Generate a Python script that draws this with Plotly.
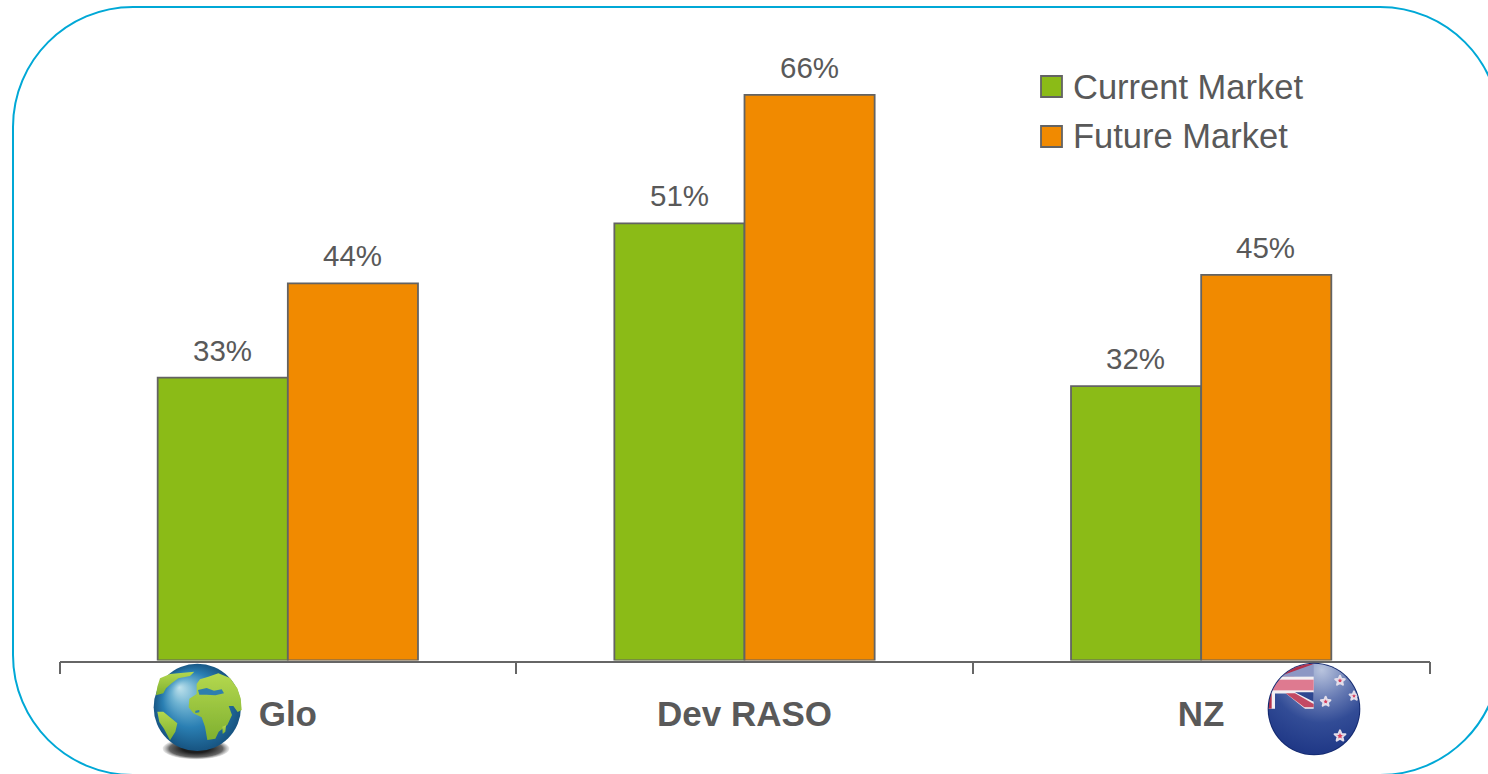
import base64
import math

import plotly.graph_objects as go

WIDTH, HEIGHT = 1488, 774

categories = ["Glo", "Dev RASO", "NZ"]
current_market = [33, 51, 32]
future_market = [44, 66, 45]
series_names = ["Current Market", "Future Market"]

GREEN = "#8BBB17"
ORANGE = "#F18A00"
EDGE = "#636363"
TEXT = "#595959"
FRAME = "#00A8D6"
FONT = "Liberation Sans, Arial, sans-serif"


def fx(px):
    return px / WIDTH


def fy(py):
    return 1 - py / HEIGHT


def svg_uri(body, view):
    svg = (
        f'<svg xmlns="http://www.w3.org/2000/svg" width="{view[2]}" height="{view[3]}" '
        f'viewBox="{view[0]} {view[1]} {view[2]} {view[3]}">{body}</svg>'
    )
    return "data:image/svg+xml;base64," + base64.b64encode(svg.encode()).decode()


def star(cx, cy, r, fill, stroke=None, sw=0):
    pts = []
    for i in range(10):
        rad = r if i % 2 == 0 else r * 0.45
        a = -math.pi / 2 + i * math.pi / 5
        pts.append(f"{cx + rad * math.cos(a):.1f},{cy + rad * math.sin(a):.1f}")
    extra = f' stroke="{stroke}" stroke-width="{sw}" stroke-linejoin="round"' if stroke else ""
    return f'<polygon points="{" ".join(pts)}" fill="{fill}"{extra}/>'


# Globe icon beside the first category, drawn on a 3x grid
globe_body = """
<defs>
<radialGradient id="sea" gradientUnits="userSpaceOnUse" cx="142" cy="142" r="134" fx="88" fy="82">
<stop offset="0" stop-color="#BFE2EC"/><stop offset="0.28" stop-color="#6FB3D2"/>
<stop offset="0.62" stop-color="#2A7FB3"/><stop offset="1" stop-color="#16527F"/>
</radialGradient>
<linearGradient id="land" x1="0" y1="0" x2="0" y2="1">
<stop offset="0" stop-color="#B4D84E"/><stop offset="1" stop-color="#7FB030"/>
</linearGradient>
<radialGradient id="shade"><stop offset="0.4" stop-color="#1E1E1E"/>
<stop offset="0.8" stop-color="#666"/><stop offset="1" stop-color="#999" stop-opacity="0.2"/></radialGradient>
<filter id="soft"><feGaussianBlur stdDeviation="1.6"/></filter>
</defs>
<ellipse cx="138" cy="266" rx="100" ry="32" fill="url(#shade)"/>
<circle cx="142" cy="142" r="131" fill="url(#sea)"/>
<g filter="url(#soft)">
<path fill="url(#land)" d="M140,72 L150,58 L175,50 L205,40 L240,54 L262,85 L272,115 L275,150 L263,156
 L250,138 L236,138 L246,165 L232,195 L206,215 L196,236 L172,240 L165,200 L155,172 L130,160 L116,142
 L118,116 L140,102 Z"/>
<path fill="url(#land)" d="M30,55 L60,42 L133,35 L120,48 L85,55 L65,70 L48,85 L40,100 L18,106 L22,80 Z"/>
<path fill="url(#land)" d="M22,155 L40,155 L60,172 L82,190 L76,215 L60,241 L42,206 L28,186 Z"/>
<path fill="url(#land)" d="M217,200 L228,196 L226,215 L218,222 Z"/>
<path fill="#2F7FAE" d="M144,90 L170,84 L192,92 L215,88 L222,100 L196,106 L170,104 L148,104 Z"/>
<path fill="#2F7FAE" d="M136,152 L148,150 L148,157 L136,159 Z"/>
</g>
"""

# New Zealand flag badge beside the last category
flag_stars = "".join(
    star(x, y, r, "#D9405E", "#E3DEEA", 6)
    for x, y, r in [(225, 62, 15), (182, 125, 15), (267, 108, 14), (225, 228, 17)]
)
flag_body = f"""
<defs>
<radialGradient id="navy" gradientUnits="userSpaceOnUse" cx="170" cy="30" r="265">
<stop offset="0" stop-color="#B9C4DE"/><stop offset="0.35" stop-color="#6478B2"/>
<stop offset="0.6" stop-color="#324C96"/><stop offset="1" stop-color="#1D3584"/>
</radialGradient>
<clipPath id="disc"><circle cx="147" cy="147" r="136"/></clipPath>
<filter id="soft"><feGaussianBlur stdDeviation="1.4"/></filter>
</defs>
<circle cx="147" cy="147" r="139" fill="#13296F"/>
<g clip-path="url(#disc)">
<rect width="295" height="295" fill="url(#navy)"/>
<g filter="url(#soft)">
<polygon points="5,50 5,5 122,5 146,5 146,12 85,50" fill="#B3304B"/>
<polygon points="40,50 146,12 146,50" fill="#8C97C4"/>
<rect x="5" y="50" width="141" height="50" fill="#F3EFF2"/>
<rect x="5" y="59" width="141" height="32" fill="#DE7A90"/>
<polygon points="5,97 146,97 146,146 120,146 62,100 30,100 30,146 5,146" fill="#F2F0F3"/>
<polygon points="30,97 146,97 146,125 90,97" fill="#2D4690"/>
<polygon points="62,100 90,100 146,132 146,142 118,142" fill="#C34A63"/>
<polygon points="5,100 20,100 20,146 5,146" fill="#B3304B"/>
{flag_stars}
</g>
</g>
"""

images = [
    dict(source=svg_uri(globe_body, (0, 0, 288, 310)), x0=150, y0=660, w=288 / 3, h=310 / 3),
    dict(source=svg_uri(flag_body, (0, 0, 295, 295)), x0=1265, y0=660, w=295 / 3, h=295 / 3),
]

fig = go.Figure()
for name, values, color in zip(series_names, [current_market, future_market], [GREEN, ORANGE]):
    fig.add_bar(
        name=name,
        x=categories,
        y=values,
        marker=dict(color=color, line=dict(color=EDGE, width=1.8)),
        showlegend=False,
        hoverinfo="x+y+name",
    )

# Percentage labels sit above each bar, centred on its half of the group
annotations = []
for values, shift in [(current_market, -65.5), (future_market, 64.5)]:
    for cat, val in zip(categories, values):
        annotations.append(
            dict(
                x=cat, y=val, xref="x", yref="y", text=f"{val}%", showarrow=False,
                xshift=shift, yshift=9, yanchor="bottom",
                font=dict(family=FONT, size=29.5, color=TEXT),
            )
        )

# Legend entries: swatch plus label
shapes = []
for name, color, top in zip(series_names, [GREEN, ORANGE], [76, 126]):
    shapes.append(
        dict(
            type="rect", xref="paper", yref="paper",
            x0=fx(1041), x1=fx(1062), y0=fy(top + 21), y1=fy(top),
            fillcolor=color, line=dict(color=EDGE, width=1.8),
        )
    )
    annotations.append(
        dict(
            x=fx(1071), y=fy(top + 10.5), xref="paper", yref="paper", text=name, showarrow=False,
            xanchor="left", yanchor="middle", font=dict(family=FONT, size=34.5, color=TEXT),
        )
    )

# Rounded frame that runs past the right and bottom page edges
L, T, R, B, RAD = 13, 7, 1500, 775, 120
K = RAD * 0.4477
frame_path = (
    f"M {fx(L)},{fy(T + RAD)} "
    f"C {fx(L)},{fy(T + K)} {fx(L + K)},{fy(T)} {fx(L + RAD)},{fy(T)} "
    f"L {fx(R - RAD)},{fy(T)} "
    f"C {fx(R - K)},{fy(T)} {fx(R)},{fy(T + K)} {fx(R)},{fy(T + RAD)} "
    f"L {fx(R)},{fy(B - RAD)} "
    f"C {fx(R)},{fy(B - K)} {fx(R - K)},{fy(B)} {fx(R - RAD)},{fy(B)} "
    f"L {fx(L + RAD)},{fy(B)} "
    f"C {fx(L + K)},{fy(B)} {fx(L)},{fy(B - K)} {fx(L)},{fy(B - RAD)} Z"
)
shapes.append(
    dict(type="path", path=frame_path, xref="paper", yref="paper", line=dict(color=FRAME, width=2), layer="below")
)

fig.update_layout(
    width=WIDTH,
    height=HEIGHT,
    margin=dict(l=0, r=0, t=0, b=0, autoexpand=False),
    paper_bgcolor="white",
    plot_bgcolor="rgba(0,0,0,0)",
    barmode="group",
    bargap=0.43,
    bargroupgap=0,
    annotations=annotations,
    shapes=shapes,
    images=[
        dict(
            source=im["source"], xref="paper", yref="paper",
            x=fx(im["x0"]), y=fy(im["y0"]), sizex=im["w"] / WIDTH, sizey=im["h"] / HEIGHT,
            xanchor="left", yanchor="top", sizing="stretch", layer="above",
        )
        for im in images
    ],
    xaxis=dict(
        domain=[fx(59.5), fx(1429.5)],
        type="category",
        tickson="boundaries",
        ticks="outside",
        ticklen=12,
        tickwidth=1.5,
        tickcolor="#666666",
        showline=True,
        linecolor="#666666",
        linewidth=1.5,
        showgrid=False,
        zeroline=False,
        ticklabelstandoff=22,
        tickfont=dict(family=FONT, size=35, color=TEXT, weight="bold"),
    ),
    yaxis=dict(domain=[fy(660.5), fy(60.5)], range=[0, 70], visible=False),
)

fig.write_html("out.html", config=dict(displayModeBar=False))
